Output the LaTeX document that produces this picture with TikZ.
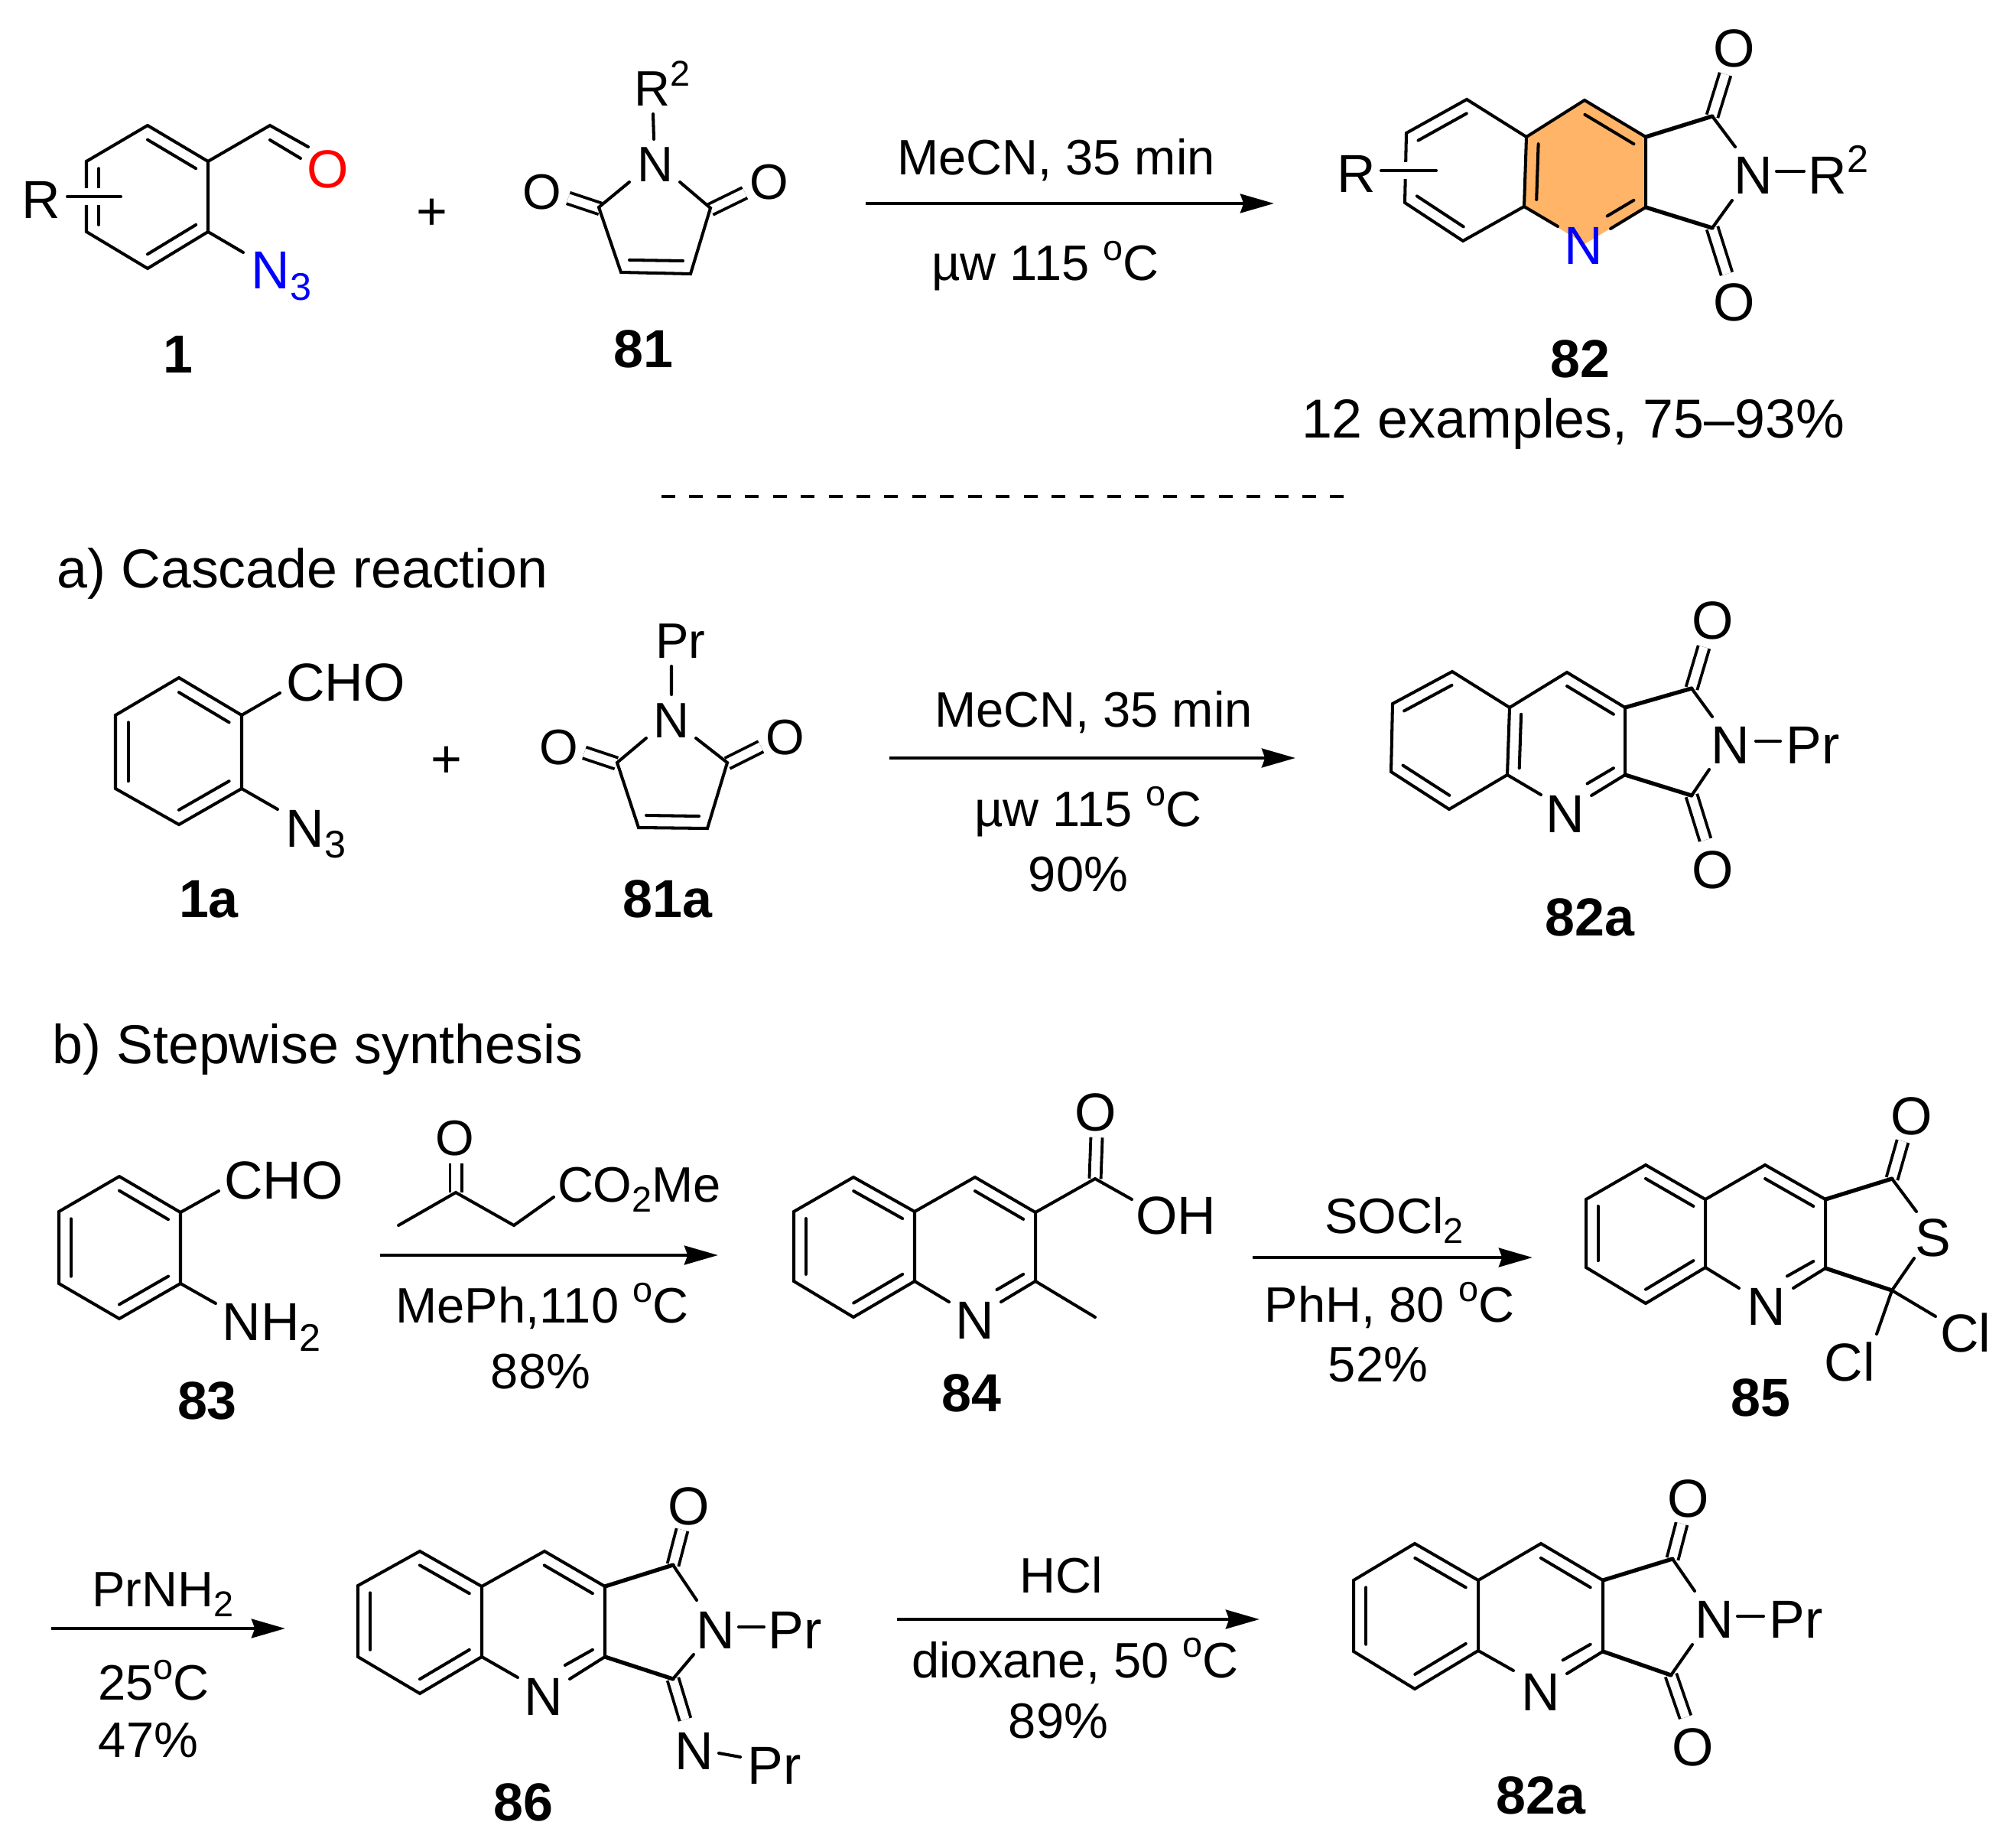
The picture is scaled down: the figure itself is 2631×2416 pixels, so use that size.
\documentclass[tikz,border=0pt]{standalone}
\usepackage{fontspec}
\setmainfont{Liberation Sans}
\usetikzlibrary{calc, arrows.meta}

\definecolor{ringfill}{HTML}{FFB467}
\newcommand{\upsc}[1]{\raisebox{.41em}{\scalebox{.72}{#1}}}
\newcommand{\dnsc}[1]{\raisebox{-.21em}{\scalebox{.72}{#1}}}
\newcommand{\inbond}[4][1]{\draw[bond] ($(#2)!.2!(#4)$) to ($($(#2)!.2!(#4)$)!#1!($(#3)!.2!(#4)$)$);}
\newcommand{\benzskel}[1]{
    \coordinate (#1m) at ($(#11)!.5!(#14)$);
    \draw[bond] (#11) to (#12) to (#13) to (#14) to (#15) to (#16) to (#11);
    \inbond{#11}{#12}{#1m}
    \inbond{#13}{#14}{#1m}
    \inbond{#15}{#16}{#1m}
}
\newcommand{\quinskel}[1]{
    \coordinate (#1l) at ($(#16)!.5!(#13)$);
    \coordinate (#1m) at ($(#16)!.5!(#19)$);
    \coordinate (#1v) at ($(#15)+(#18)-(#17)$);
    \draw[bond] (#16) to (#11) to (#12) to (#13) to (#14) to (#15) to (#16);
    \draw[bond] (#16) to (#17) to (#18) to (#19) to (#1e);
    \draw[bond] (#15) to (#1d);
    \inbond{#17}{#18}{#1m}
    \inbond[.55]{#19}{#1v}{#1m}
}
\newcommand{\quinA}[1]{
    \inbond{#11}{#12}{#1l}
    \inbond{#13}{#14}{#1l}
    \inbond{#15}{#16}{#1m}
}
\newcommand{\quinB}[1]{
    \inbond{#11}{#16}{#1l}
    \inbond{#12}{#13}{#1l}
    \inbond{#14}{#15}{#1l}
}
\newcommand{\imide}[1]{
    \draw[dbond] (#1t) to (#1u);
    \draw[dbond] (#1b) to (#1w);
    \draw[fatbond] (#18) to (#1t);
    \draw[fatbond] (#19) to (#1b);
    \draw[bond] (#1t) to (#1a);
    \draw[bond] (#1b) to (#1c);
    \draw[bond] (#1x) to (#1y);
}

\tikzset{
    bond/.style={line width=1.15pt, line cap=round},
    fatbond/.style={line width=1.5pt, line cap=round},
    dbond/.style={line width=1.1pt, double, double distance=3.2pt},
    rbond/.style={bond, preaction={draw, white, line width=6.5pt, line cap=butt}},
    rarrow/.style={line width=1.4pt, -{Stealth[length=12.5pt, width=7pt, inset=1.2pt]}},
    small/.style={anchor=base, inner sep=0pt, font=\fontsize{18.5pt}{22pt}\selectfont},
    large/.style={anchor=base, inner sep=0pt, font=\fontsize{19.9pt}{24pt}\selectfont},
    head/.style={anchor=base, inner sep=0pt, font=\fontsize{20.4pt}{24pt}\selectfont},
    num/.style={anchor=base, inner sep=0pt, font=\fontsize{19.9pt}{24pt}\selectfont\bfseries},
    lw/.style={anchor=base west}
}

\begin{document}
\begin{tikzpicture}[x=0.01cm, y=-0.01cm]
    \useasboundingbox (0,0) rectangle (2631,2416);

    \coordinate (a1) at (193,164); \coordinate (a2) at (272,211); \coordinate (a3) at (272,303);
    \coordinate (a4) at (193,351); \coordinate (a5) at (113,303); \coordinate (a6) at (113,211);
    \coordinate (ac) at (353,164); \coordinate (ao) at (403,192);
    \coordinate (ai) at (353,183); \coordinate (aj) at (393,207);
    \coordinate (an) at (318,330); \coordinate (ar) at (88,257); \coordinate (as) at (158,257);
    \benzskel{a}
    \draw[bond] (a2) to (ac) to (ao)
        (ai) to (aj)
        (a3) to (an);
    \draw[rbond] (ar) to (as);
    \node[large] (aR) at (54,286) {R};
    \node[large, text=red] (aO) at (429,246) {O};
    \node[large, lw, text=blue] (aN) at (328,378) {N\dnsc{3}};
    \node[num] (aL) at (233,488) {1};
    \node[large] (plus1) at (565,301) {+};

    \coordinate (b1) at (854,149); \coordinate (b2) at (855,182);
    \coordinate (b3) at (823,238); \coordinate (b4) at (783,271); \coordinate (b5) at (812,356);
    \coordinate (b6) at (903,358); \coordinate (b7) at (929,272); \coordinate (b8) at (889,238);
    \coordinate (b9) at (823,340); \coordinate (b10) at (893,341);
    \coordinate (b11) at (785,273); \coordinate (b12) at (743,259);
    \coordinate (b13) at (929,274); \coordinate (b14) at (974,252);
    \draw[dbond] (b11) to (b12);
    \draw[dbond] (b13) to (b14);
    \draw[bond] (b1) to (b2)
        (b3) to (b4) to (b5) to (b6) to (b7) to (b8)
        (b9) to (b10);
    \node[small] (bR) at (866,139) {R\upsc{2}};
    \node[small] (bN) at (857,238) {N};
    \node[small] (bO) at (709,274) {O};
    \node[small] (bP) at (1006,261) {O};
    \node[num] (bL) at (841,481) {81};

    \coordinate (ar1) at (1132,266); \coordinate (ar2) at (1666,266);
    \draw[rarrow] (ar1) to (ar2);
    \node[small] (t1) at (1381,229) {MeCN, 35 min};
    \node[small] (t2) at (1367,367) {µw 115 \upsc{o}C};

    \coordinate (c1) at (1918,130); \coordinate (c2) at (1839,174); \coordinate (c3) at (1837,265);
    \coordinate (c4) at (1913,315); \coordinate (c5) at (1993,270); \coordinate (c6) at (1996,179);
    \coordinate (c7) at (2072,131); \coordinate (c8) at (2152,179); \coordinate (c9) at (2152,271);
    \coordinate (cd) at (2037,296); \coordinate (ce) at (2106,299); \coordinate (cf) at (2072,319);
    \coordinate (ct) at (2239,152); \coordinate (cb) at (2239,298);
    \coordinate (ca) at (2269,192); \coordinate (cc) at (2265,262);
    \coordinate (cu) at (2256,97); \coordinate (cw) at (2258,358);
    \coordinate (cx) at (2323,224); \coordinate (cy) at (2359,224);
    \coordinate (cr) at (1806,223); \coordinate (cs) at (1878,223);
    \fill[ringfill] (c6) -- (c7) -- (c8) -- (c9) -- (cf) -- (c5) -- cycle;
    \imide{c}
    \quinskel{c}
    \quinA{c}
    \draw[rbond] (cr) to (cs);
    \node[large] (cR) at (1774,252) {R};
    \node[large, text=blue] (cN) at (2071,346) {N};
    \node[large] (cM) at (2293,254) {N};
    \node[large, lw] (cQ) at (2364,254) {R\upsc{2}};
    \node[large] (cO) at (2268,88) {O};
    \node[large] (cP) at (2268,420) {O};
    \node[num] (cL) at (2066,494) {82};
    \node[head] (cE) at (2057,573) {12 examples, 75–93\%};

    \coordinate (sep1) at (865,649); \coordinate (sep2) at (1757,649);
    \draw[line width=1pt, dash pattern=on 5.12pt off 5.24pt] (sep1) to (sep2);

    \node[head, lw] (head1) at (74,769) {a) Cascade reaction};

    \coordinate (d1) at (234,886); \coordinate (d2) at (316,935); \coordinate (d3) at (316,1031);
    \coordinate (d4) at (234,1078); \coordinate (d5) at (151,1031); \coordinate (d6) at (151,935);
    \coordinate (dc) at (366,906); \coordinate (dn) at (363,1058);
    \benzskel{d}
    \draw[bond] (d2) to (dc)
        (d3) to (dn);
    \node[large] (dC) at (452,916) {CHO};
    \node[large, lw] (dN) at (373,1107) {N\dnsc{3}};
    \node[num] (dL) at (273,1199) {1a};
    \node[large] (plus2) at (584,1016) {+};

    \coordinate (e1) at (878,871); \coordinate (e2) at (878,908);
    \coordinate (e3) at (845,965); \coordinate (e4) at (807,997); \coordinate (e5) at (835,1082);
    \coordinate (e6) at (925,1083); \coordinate (e7) at (951,997); \coordinate (e8) at (910,965);
    \coordinate (e9) at (845,1066); \coordinate (e10) at (914,1067);
    \coordinate (e11) at (806,998); \coordinate (e12) at (764,984);
    \coordinate (e13) at (951,998); \coordinate (e14) at (995,976);
    \draw[dbond] (e11) to (e12);
    \draw[dbond] (e13) to (e14);
    \draw[bond] (e1) to (e2)
        (e3) to (e4) to (e5) to (e6) to (e7) to (e8)
        (e9) to (e10);
    \node[small] (eR) at (890,860) {Pr};
    \node[small] (eN) at (878,964) {N};
    \node[small] (eO) at (731,999) {O};
    \node[small] (eP) at (1027,986) {O};
    \node[num] (eL) at (873,1199) {81a};

    \coordinate (ar3) at (1163,991); \coordinate (ar4) at (1694,991);
    \draw[rarrow] (ar3) to (ar4);
    \node[small] (t3) at (1430,950) {MeCN, 35 min};
    \node[small] (t4) at (1423,1080) {µw 115 \upsc{o}C};
    \node[small] (t5) at (1410,1165) {90\%};

    \coordinate (f1) at (1899,878); \coordinate (f2) at (1821,920); \coordinate (f3) at (1819,1009);
    \coordinate (f4) at (1895,1058); \coordinate (f5) at (1971,1013); \coordinate (f6) at (1974,925);
    \coordinate (f7) at (2049,879); \coordinate (f8) at (2125,925); \coordinate (f9) at (2125,1013);
    \coordinate (fd) at (2015,1039); \coordinate (fe) at (2081,1040);
    \coordinate (ft) at (2212,900); \coordinate (fb) at (2212,1040);
    \coordinate (fa) at (2239,937); \coordinate (fc) at (2235,1006);
    \coordinate (fu) at (2228,846); \coordinate (fw) at (2230,1098);
    \coordinate (fx) at (2296,969); \coordinate (fy) at (2328,969);
    \imide{f}
    \quinskel{f}
    \quinA{f}
    \node[large] (fN) at (2047,1088) {N};
    \node[large] (fM) at (2263,998) {N};
    \node[large, lw] (fQ) at (2335,998) {Pr};
    \node[large] (fO) at (2240,836) {O};
    \node[large] (fP) at (2240,1161) {O};
    \node[num] (fL) at (2079,1223) {82a};

    \node[head, lw] (head2) at (68,1390) {b) Stepwise synthesis};

    \coordinate (g1) at (156,1538); \coordinate (g2) at (236,1585); \coordinate (g3) at (236,1678);
    \coordinate (g4) at (156,1724); \coordinate (g5) at (77,1678); \coordinate (g6) at (77,1584);
    \coordinate (gc) at (286,1557); \coordinate (gn) at (282,1704);
    \benzskel{g}
    \draw[bond] (g2) to (gc)
        (g3) to (gn);
    \node[large] (gC) at (371,1567) {CHO};
    \node[large, lw] (gN) at (290,1752) {NH\dnsc{2}};
    \node[num] (gL) at (271,1855) {83};

    \coordinate (h1) at (521,1602); \coordinate (h2) at (596,1559); \coordinate (h3) at (672,1602);
    \coordinate (h4) at (724,1565); \coordinate (h5) at (596,1521);
    \draw[dbond] (h2) to (h5);
    \draw[bond] (h1) to (h2) to (h3) to (h4);
    \node[small] (hO) at (595,1510) {O};
    \node[small] (hC) at (836,1571) {CO\dnsc{2}Me};
    \coordinate (ar5) at (497,1641); \coordinate (ar6) at (939,1641);
    \draw[rarrow] (ar5) to (ar6);
    \node[small] (t6) at (709,1729) {MePh,110 \upsc{o}C};
    \node[small] (t7) at (707,1815) {88\%};

    \coordinate (i1) at (1116,1539); \coordinate (i2) at (1038,1584); \coordinate (i3) at (1038,1675);
    \coordinate (i4) at (1116,1722); \coordinate (i5) at (1196,1675); \coordinate (i6) at (1196,1584);
    \coordinate (i7) at (1275,1539); \coordinate (i8) at (1354,1585); \coordinate (i9) at (1354,1675);
    \coordinate (id) at (1241,1702); \coordinate (ie) at (1309,1702);
    \coordinate (ig) at (1432,1722); \coordinate (ic) at (1432,1541);
    \coordinate (ih) at (1480,1568); \coordinate (io) at (1434,1487);
    \draw[dbond] (ic) to (io);
    \quinskel{i}
    \quinB{i}
    \draw[bond] (i9) to (ig)
        (i8) to (ic) to (ih);
    \node[large] (iN) at (1275,1750) {N};
    \node[large] (iO) at (1433,1478) {O};
    \node[large] (iH) at (1538,1613) {OH};
    \node[num] (iL) at (1270,1845) {84};

    \coordinate (ar7) at (1638,1644); \coordinate (ar8) at (2004,1644);
    \draw[rarrow] (ar7) to (ar8);
    \node[small] (t8) at (1823,1612) {SOCl\dnsc{2}};
    \node[small] (t9) at (1817,1728) {PhH, 80 \upsc{o}C};
    \node[small] (t10) at (1802,1806) {52\%};

    \coordinate (j1) at (2152,1523); \coordinate (j2) at (2074,1568); \coordinate (j3) at (2074,1657);
    \coordinate (j4) at (2152,1704); \coordinate (j5) at (2230,1657); \coordinate (j6) at (2230,1568);
    \coordinate (j7) at (2308,1523); \coordinate (j8) at (2387,1568); \coordinate (j9) at (2387,1658);
    \coordinate (jd) at (2274,1684); \coordinate (je) at (2345,1684);
    \coordinate (jt) at (2474,1541); \coordinate (jb) at (2474,1687);
    \coordinate (ja) at (2506,1584); \coordinate (jc) at (2503,1645);
    \coordinate (jk) at (2531,1721); \coordinate (jh) at (2454,1744);
    \coordinate (ju) at (2488,1492);
    \draw[dbond] (jt) to (ju);
    \quinskel{j}
    \quinB{j}
    \draw[fatbond] (j8) to (jt)
        (j9) to (jb);
    \draw[bond] (jt) to (ja)
        (jc) to (jb) to (jk)
        (jb) to (jh);
    \node[large] (jN) at (2310,1732) {N};
    \node[large] (jO) at (2500,1483) {O};
    \node[large] (jS) at (2528,1642) {S};
    \node[large] (jC) at (2570,1767) {Cl};
    \node[large] (jD) at (2419,1805) {Cl};
    \node[num] (jL) at (2302,1851) {85};

    \coordinate (ar9) at (67,2129); \coordinate (ar10) at (373,2129);
    \draw[rarrow] (ar9) to (ar10);
    \node[small] (t11) at (213,2100) {PrNH\dnsc{2}};
    \node[small] (t12) at (201,2222) {25\upsc{o}C};
    \node[small] (t13) at (194,2297) {47\%};

    \coordinate (k1) at (549,2028); \coordinate (k2) at (468,2073); \coordinate (k3) at (468,2166);
    \coordinate (k4) at (549,2214); \coordinate (k5) at (630,2166); \coordinate (k6) at (630,2074);
    \coordinate (k7) at (712,2028); \coordinate (k8) at (791,2074); \coordinate (k9) at (791,2166);
    \coordinate (kd) at (677,2193); \coordinate (ke) at (745,2195);
    \coordinate (kt) at (880,2046); \coordinate (kb) at (880,2195);
    \coordinate (ka) at (911,2092); \coordinate (kc) at (907,2163);
    \coordinate (ku) at (892,2000); \coordinate (kw) at (896,2248);
    \coordinate (kx) at (966,2127); \coordinate (ky) at (999,2127);
    \coordinate (kp) at (940,2292); \coordinate (kq) at (968,2297);
    \imide{k}
    \quinskel{k}
    \quinB{k}
    \draw[bond] (kp) to (kq);
    \node[large] (kN) at (711,2242) {N};
    \node[large] (kM) at (936,2155) {N};
    \node[large, lw] (kQ) at (1004,2155) {Pr};
    \node[large] (kO) at (901,1993) {O};
    \node[large] (kP) at (908,2313) {N};
    \node[large, lw] (kS) at (977,2332) {Pr};
    \node[num] (kL) at (684,2380) {86};

    \coordinate (ar11) at (1173,2117); \coordinate (ar12) at (1647,2117);
    \draw[rarrow] (ar11) to (ar12);
    \node[small] (t14) at (1388,2082) {HCl};
    \node[small] (t15) at (1406,2193) {dioxane, 50 \upsc{o}C};
    \node[small] (t16) at (1384,2272) {89\%};

    \coordinate (m1) at (1850,2018); \coordinate (m2) at (1770,2066); \coordinate (m3) at (1770,2159);
    \coordinate (m4) at (1850,2208); \coordinate (m5) at (1933,2158); \coordinate (m6) at (1933,2066);
    \coordinate (m7) at (2015,2018); \coordinate (m8) at (2096,2066); \coordinate (m9) at (2096,2159);
    \coordinate (md) at (1979,2184); \coordinate (me) at (2049,2188);
    \coordinate (mt) at (2187,2038); \coordinate (mb) at (2185,2190);
    \coordinate (ma) at (2216,2080); \coordinate (mc) at (2213,2150);
    \coordinate (mu) at (2199,1992); \coordinate (mw) at (2204,2245);
    \coordinate (mx) at (2272,2113); \coordinate (my) at (2306,2113);
    \imide{m}
    \quinskel{m}
    \quinB{m}
    \node[large] (mN) at (2015,2236) {N};
    \node[large] (mM) at (2242,2141) {N};
    \node[large, lw] (mQ) at (2313,2141) {Pr};
    \node[large] (mO) at (2208,1983) {O};
    \node[large] (mP) at (2214,2308) {O};
    \node[num] (mL) at (2015,2371) {82a};
\end{tikzpicture}
\end{document}
